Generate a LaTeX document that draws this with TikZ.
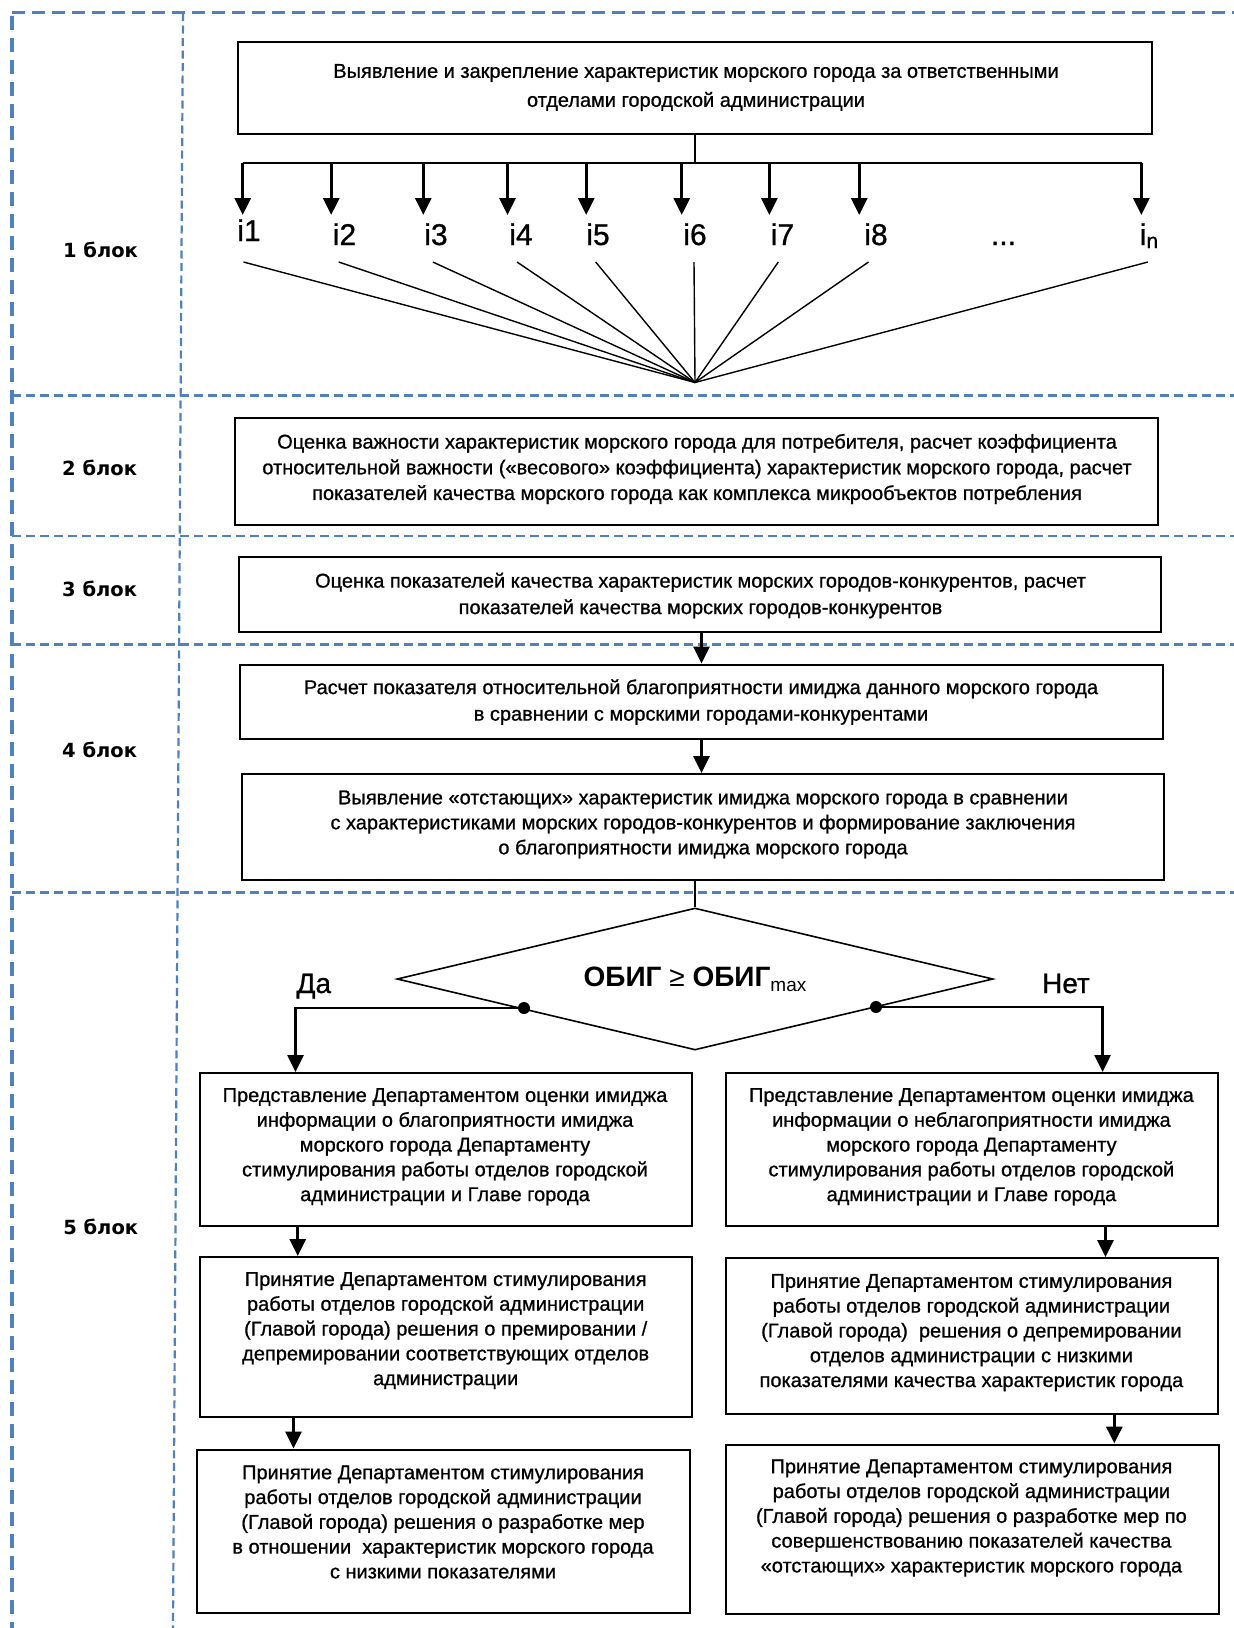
\documentclass[tikz,border=0pt]{standalone}
\usepackage{fontspec}
\setmainfont{Liberation Sans}
\newfontfamily\boxfont[FakeBold=0.8]{Liberation Sans}
\newfontfamily\blokfont{DejaVu Sans}
\usetikzlibrary{arrows.meta,shapes.geometric}
\definecolor{dashblue}{RGB}{79,129,189}
\begin{document}
\begin{tikzpicture}[x=1pt,y=-1pt,
  box/.style={draw, line width=2pt, inner sep=0pt},
  txt/.style={align=center, inner sep=0pt, font=\boxfont\fontsize{20}{25}\selectfont},
  arr/.style={line width=3pt, -{Triangle[width=16pt,length=17pt]}},
  fan/.style={line width=1.4pt},
  lbl/.style={font=\boxfont\fontsize{30}{30}\selectfont, anchor=base, inner sep=0pt},
  blok/.style={font=\blokfont\bfseries\fontsize{19.5}{20}\selectfont, inner sep=0pt},
  hsep/.style={dashblue, line width=2.5pt, dash pattern=on 9pt off 5pt},
  dotnode/.style={circle, fill=black, inner sep=0pt, minimum size=12pt}
]
\useasboundingbox (0,0) rectangle (1234,1628);
\fill[white] (0,0) rectangle (1234,1628);

% blue dashed frame
\draw[dashblue, line width=3.3pt, dash pattern=on 13pt off 7pt] (12,12.7) -- (1234,12.7);
\draw[dashblue, line width=4pt, dash pattern=on 14pt off 8pt] (12,16) -- (12,1628);
\draw[dashblue, line width=2.2pt, dash pattern=on 8pt off 4.5pt] (183,13) -- (173,1628);
\draw[hsep] (12,395.5) -- (1234,395.5);
\draw[hsep] (12,536) -- (1234,536);
\draw[hsep] (12,644.5) -- (1234,644.5);
\draw[hsep] (12,892.5) -- (1234,892.5);

% block labels
\node[blok] (k1) at (100.5,249.5) {1 блок};
\node[blok] (k2) at (99.6,467.5) {2 блок};
\node[blok] (k3) at (99.6,589) {3 блок};
\node[blok] (k4) at (99.6,750) {4 блок};
\node[blok] (k5) at (100.7,1227) {5 блок};

% block 1
\node[box, minimum width=914pt, minimum height=92pt] (b1) at (695,88) {};
\node[txt, font=\boxfont\fontsize{20}{29}\selectfont] (t1) at (696,87.5) {Выявление и закрепление характеристик морского города за ответственными\\ отделами городской администрации};

\coordinate (busL) at (242.7,163);
\coordinate (busR) at (1141.5,163);
\draw[line width=1.3pt] (b1.south) -- (b1.south |- busL);
\draw[line width=2.2pt] (busL) -- (busR);
\foreach \n/\x in {1/242.7,2/331.2,3/423.3,4/507.5,5/586.2,6/681.7,7/769.4,8/859.2,9/1141.4}{
  \coordinate (a\n) at (\x,215);
  \draw[arr] (a\n |- busL) -- (a\n);
}

\node[lbl] (i1) at (249,241) {i1};
\node[lbl] (i2) at (344.5,245) {i2};
\node[lbl] (i3) at (436,245) {i3};
\node[lbl] (i4) at (521,245) {i4};
\node[lbl] (i5) at (598,245) {i5};
\node[lbl] (i6) at (695,245) {i6};
\node[lbl] (i7) at (782.5,245) {i7};
\node[lbl] (i8) at (876,245) {i8};
\node[lbl] (idots) at (1003.5,245) {...};
\node[lbl] (in) at (1149,245) {i\raisebox{-3pt}{\fontsize{21}{21}\selectfont n}};

\coordinate (hub) at (695,382.5);
\foreach \n/\x in {1/243.5,2/338.7,3/432.8,4/517,5/595.7,6/694,7/778.3,8/868.5,9/1147.9}{
  \coordinate (f\n) at (\x,262);
  \draw[fan] (f\n) -- (hub);
}

% block 2
\node[box, minimum width=923pt, minimum height=107pt] (b2) at (696.5,471.5) {};
\node[txt, font=\boxfont\fontsize{20}{25.7}\selectfont] (t2) at (697,469) {Оценка важности характеристик морского города для потребителя, расчет коэффициента\\ относительной важности («весового» коэффициента) характеристик морского города, расчет\\ показателей качества морского города как комплекса микрообъектов потребления};

% block 3
\node[box, minimum width=922.5pt, minimum height=74.5pt] (b3) at (699.75,594.25) {};
\node[txt, font=\boxfont\fontsize{20}{26.5}\selectfont] (t3) at (700.5,595.5) {Оценка показателей качества характеристик морских городов-конкурентов, расчет\\ показателей качества морских городов-конкурентов};

% block 4
\node[box, minimum width=923pt, minimum height=74pt] (b4a) at (701.5,701.5) {};
\node[txt, font=\boxfont\fontsize{20}{26.5}\selectfont] (t4a) at (701,702) {Расчет показателя относительной благоприятности имиджа данного морского города\\ в сравнении с морскими городами-конкурентами};
\node[box, minimum width=922.5pt, minimum height=106pt] (b4b) at (702.75,827) {};
\node[txt, font=\boxfont\fontsize{20}{25}\selectfont] (t4b) at (703,824.5) {Выявление «отстающих» характеристик имиджа морского города в сравнении\\ с характеристиками морских городов-конкурентов и формирование заключения\\ о благоприятности имиджа морского города};

\draw[arr] (b4a.north |- b3.south) -- (b4a.north);
\draw[arr] (b4a.south) -- (b4a.south |- b4b.north);

% block 5
\node[diamond, draw, line width=1.6pt, aspect=4.2, inner sep=0pt, minimum width=596pt, minimum height=142pt] (d) at (695,979) {\fontsize{28}{28}\selectfont\bfseries ОБИГ {\mdseries ≥} ОБИГ\raisebox{-5pt}{\mdseries\fontsize{19}{19}\selectfont max}};
\draw[line width=1.5pt] (d.north |- b4b.south) -- (d.north);

\node[box, minimum width=492pt, minimum height=153pt] (L1) at (446,1149.5) {};
\node[box, minimum width=492pt, minimum height=160pt] (L2) at (446,1337) {};
\node[box, minimum width=492.5pt, minimum height=163pt] (L3) at (443.25,1531) {};
\node[box, minimum width=492pt, minimum height=153pt] (R1) at (971.5,1149.5) {};
\node[box, minimum width=492pt, minimum height=156pt] (R2) at (971.5,1336) {};
\node[box, minimum width=492.5pt, minimum height=169pt] (R3) at (972.25,1529) {};

\node[txt, font=\boxfont\fontsize{20}{24.8}\selectfont] (tL1) at (445,1146.7) {Представление Департаментом оценки имиджа\\ информации о благоприятности имиджа\\ морского города Департаменту\\ стимулирования работы отделов городской\\ администрации и Главе города};
\node[txt, font=\boxfont\fontsize{20}{24.8}\selectfont] (tL2) at (445.7,1330.7) {Принятие Департаментом стимулирования\\ работы отделов городской администрации\\ (Главой города) решения о премировании /\\ депремировании соответствующих отделов\\ администрации};
\node[txt, font=\boxfont\fontsize{20}{24.8}\selectfont] (tL3) at (443,1522) {Принятие Департаментом стимулирования\\ работы отделов городской администрации\\ (Главой города) решения о разработке мер\\ в отношении\ \ характеристик морского города\\ с низкими показателями};
\node[txt, font=\boxfont\fontsize{20}{24.8}\selectfont] (tR1) at (971.4,1146.7) {Представление Департаментом оценки имиджа\\ информации о неблагоприятности имиджа\\ морского города Департаменту\\ стимулирования работы отделов городской\\ администрации и Главе города};
\node[txt, font=\boxfont\fontsize{20}{24.8}\selectfont] (tR2) at (971.4,1332.6) {Принятие Департаментом стимулирования\\ работы отделов городской администрации\\ (Главой города)\ \ решения о депремировании\\ отделов администрации с низкими\\ показателями качества характеристик города};
\node[txt, font=\boxfont\fontsize{20}{24.8}\selectfont] (tR3) at (971.4,1518) {Принятие Департаментом стимулирования\\ работы отделов городской администрации\\ (Главой города) решения о разработке мер по\\ совершенствованию показателей качества\\ «отстающих» характеристик морского города};

\coordinate (yaL) at (295.5,1008);
\coordinate (netR) at (1102.6,1007);
\draw[arr, line width=2.6pt] (524,1008) -| (yaL |- L1.north);
\draw[arr, line width=2.6pt] (876,1007) -| (netR |- R1.north);
\node[dotnode] (dl) at (524,1008) {};
\node[dotnode] (dr) at (876,1007) {};
\node[font=\boxfont\fontsize{28}{28}\selectfont, anchor=base, inner sep=0pt] (da) at (313.8,993) {Да};
\node[font=\boxfont\fontsize{28}{28}\selectfont, anchor=base, inner sep=0pt] (net) at (1066,993) {Нет};

\coordinate (xL12) at (297.7,0);
\coordinate (xL23) at (293.5,0);
\coordinate (xR12) at (1105.5,0);
\coordinate (xR23) at (1114.3,0);
\draw[arr] (xL12 |- L1.south) -- (xL12 |- L2.north);
\draw[arr] (xL23 |- L2.south) -- (xL23 |- L3.north);
\draw[arr] (xR12 |- R1.south) -- (xR12 |- R2.north);
\draw[arr] (xR23 |- R2.south) -- (xR23 |- R3.north);
\end{tikzpicture}
\end{document}
